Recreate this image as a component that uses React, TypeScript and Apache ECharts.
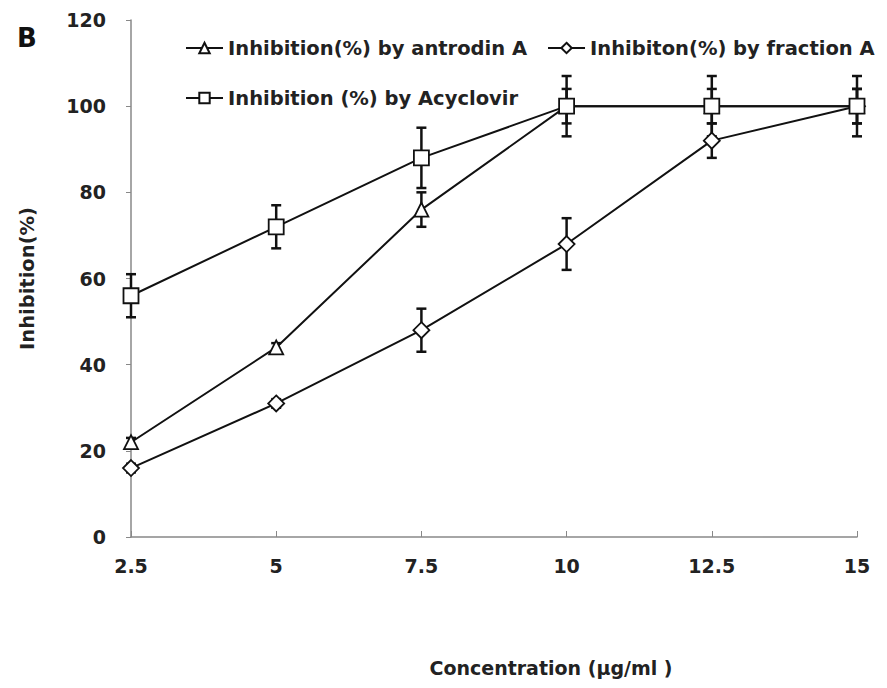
import React, { useEffect, useRef } from "react";
import * as echarts from "echarts";

const categories = ["2.5", "5", "7.5", "10", "12.5", "15"];
const antrodinA = [22, 44, 76, 100, 100, 100];
const antrodinErr = [1, 1, 4, 4, 4, 4];
const fractionA = [16, 31, 48, 68, 92, 100];
const fractionErr = [1, 1, 5, 6, 4, 4];
const acyclovir = [56, 72, 88, 100, 100, 100];
const acyclovirErr = [5, 5, 7, 7, 7, 7];

const names = [
  "Inhibition(%) by antrodin A",
  "Inhibiton(%) by fraction A",
  "Inhibition (%) by Acyclovir",
];

const FONT = "'DejaVu Sans', 'Open Sans', sans-serif";

function errSeries(vals: number[], errs: number[]) {
  return {
    type: "custom",
    silent: true,
    z: 1,
    data: vals.map((v, i) => [i, v - errs[i], v + errs[i]]),
    renderItem: (params: any, api: any) => {
      const x = api.value(0);
      const lo = api.coord([x, api.value(1)]);
      const hi = api.coord([x, api.value(2)]);
      const cap = 5;
      const style = { stroke: "#111", lineWidth: 2.5 };
      return {
        type: "group",
        children: [
          { type: "line", shape: { x1: lo[0], y1: lo[1], x2: hi[0], y2: hi[1] }, style },
          { type: "line", shape: { x1: lo[0] - cap, y1: lo[1], x2: lo[0] + cap, y2: lo[1] }, style },
          { type: "line", shape: { x1: hi[0] - cap, y1: hi[1], x2: hi[0] + cap, y2: hi[1] }, style },
        ],
      };
    },
  };
}

function lineSeries(name: string, vals: number[], symbol: string, size: number) {
  return {
    name,
    type: "line",
    data: vals,
    symbol,
    symbolSize: size,
    showAllSymbol: true,
    z: 3,
    lineStyle: { color: "#111", width: 2 },
    itemStyle: { color: "#fff", borderColor: "#111", borderWidth: 1.8 },
  };
}

export default function App() {
  const ref = useRef<HTMLDivElement>(null);
  useEffect(() => {
    const chart = echarts.init(ref.current!, null, { renderer: "svg" });
    const legendText = { fontFamily: FONT, fontSize: 19.5, fontWeight: "bold", color: "#222" };
    const tickText = { fontFamily: FONT, fontSize: 19, fontWeight: "bold", color: "#222" };
    chart.setOption({
      animation: false,
      backgroundColor: "#fff",
      grid: { left: 131, right: 30, top: 20, bottom: 151, containLabel: false },
      legend: [
        {
          data: [names[0], names[1]],
          left: 180,
          top: 33,
          itemWidth: 37,
          itemHeight: 13,
          itemGap: 20,
          textStyle: legendText,
        },
        {
          data: [names[2]],
          left: 180,
          top: 83,
          itemWidth: 37,
          itemHeight: 13,
          textStyle: legendText,
        },
      ],
      graphic: [
        {
          type: "text",
          left: 17,
          top: 25,
          style: { text: "B", fontFamily: FONT, fontSize: 26, fontWeight: "bold", fill: "#111" },
        },
      ],
      xAxis: {
        type: "category",
        data: categories,
        boundaryGap: false,
        name: "Concentration (µg/ml )",
        nameLocation: "middle",
        nameGap: 121,
        nameTextStyle: {
          fontFamily: FONT,
          fontSize: 19,
          fontWeight: "bold",
          color: "#222",
          padding: [0, 0, 0, 114],
        },
        axisLine: { lineStyle: { color: "#888", width: 1.5 } },
        axisTick: { inside: true, length: 6, alignWithLabel: true, lineStyle: { color: "#888" } },
        axisLabel: { ...tickText, margin: 19 },
        splitLine: { show: false },
      },
      yAxis: {
        type: "value",
        min: 0,
        max: 120,
        interval: 20,
        name: "Inhibition(%)",
        nameLocation: "middle",
        nameGap: 94,
        nameTextStyle: { fontFamily: FONT, fontSize: 19.5, fontWeight: "bold", color: "#222" },
        axisLine: { show: true, lineStyle: { color: "#888", width: 1.5 } },
        axisTick: { show: true, length: 5, lineStyle: { color: "#888" } },
        axisLabel: { ...tickText, margin: 25 },
        splitLine: { show: false },
      },
      series: [
        errSeries(antrodinA, antrodinErr),
        errSeries(fractionA, fractionErr),
        errSeries(acyclovir, acyclovirErr),
        lineSeries(names[0], antrodinA, "triangle", 14),
        lineSeries(names[1], fractionA, "diamond", 16),
        lineSeries(names[2], acyclovir, "rect", 15),
      ],
    });
    return () => chart.dispose();
  }, []);
  return <div ref={ref} style={{ width: 887, height: 688, position: "absolute", left: 0, top: 0 }} />;
}
